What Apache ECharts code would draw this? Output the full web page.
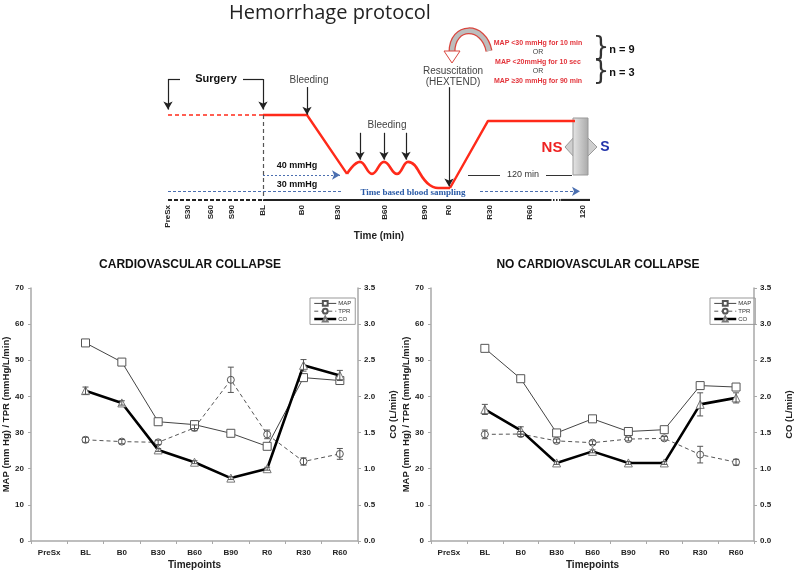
<!DOCTYPE html>
<html><head><meta charset="utf-8">
<script src="https://cdn.jsdelivr.net/npm/echarts@6/dist/echarts.min.js"></script>
<style>html,body{margin:0;padding:0;background:#fff}#c{width:795px;height:578px}</style>
</head><body><div id="c"></div>
<script>
// ---------- data ----------
const categories = ['PreSx','BL','B0','B30','B60','B90','R0','R30','R60'];
const mapTicks = [0,10,20,30,40,50,60,70];
const coTicks = [0,0.5,1,1.5,2,2.5,3,3.5];

const collapseMAP    = [null,54.8,49.5,33.0,32.2,29.8,26.2,45.2,44.4];
const collapseTPR    = [null,28.0,27.5,27.3,31.3,44.6,29.5,22.0,24.1];
const collapseTPRErr = [null,0.7,0.6,0.6,0.8,3.5,1.2,1.0,1.5];
const collapseCO     = [null,2.08,1.91,1.26,1.09,0.87,1.00,2.43,2.29];
const collapseCOErr  = [null,0.05,0.03,0.02,0.02,0.02,0.02,0.08,0.07];

const noCollapseMAP    = [null,53.3,44.9,29.9,33.8,30.3,30.8,43.0,42.6];
const noCollapseTPR    = [null,29.5,29.6,27.7,27.2,28.2,28.4,23.9,21.8];
const noCollapseTPRErr = [null,1.2,0.7,0.5,0.5,0.5,0.5,2.3,0.8];
const noCollapseCO     = [null,1.82,1.53,1.08,1.24,1.08,1.08,1.89,1.98];
const noCollapseCOErr  = [null,0.07,0.05,0.02,0.02,0.02,0.02,0.16,0.07];

// protocol schematic (x: schematic time position, y: schematic pressure)
const protocolTickLabels = ['PreSx','S30','S60','S90','BL','B0','B30','B60','B90','R0','R30','R60','120'];
const protocolTickPos    = [0,20,43,64,95,134,170,217,257,281,322,362,415];
const protocolSurgery = [[0,77.1],[95,77.1]];
const protocolBleed   = [[95,77.1],[139,77.1],[179,40.3]];
const protocolWaves   = [[179,40.3],[192,47.8],[204,40.3],[216,47.8],[229,40.3],[240,47.8],[262,33.2],[274,31.5],[282,31.5]];
const protocolResus   = [[282,31.5],[320,73.4],[407,73.4]];

// ---------- helpers ----------
const F = 'Liberation Sans, Arial, sans-serif';
const AX = '#a9a9a9';
function errSeries(xi, yi, vals, errs, z){
  return {type:'custom', xAxisIndex:xi, yAxisIndex:yi, z:z, silent:true,
    encode:{x:0, y:[1,2]},
    renderItem(params, api){
      const x=api.value(0), hi=api.value(1), lo=api.value(2);
      const p1=api.coord([x,hi]), p2=api.coord([x,lo]);
      const w=3, st={stroke:'#555',lineWidth:1};
      return {type:'group', children:[
        {type:'line', shape:{x1:p1[0],y1:p1[1],x2:p2[0],y2:p2[1]}, style:st},
        {type:'line', shape:{x1:p1[0]-w,y1:p1[1],x2:p1[0]+w,y2:p1[1]}, style:st},
        {type:'line', shape:{x1:p2[0]-w,y1:p2[1],x2:p2[0]+w,y2:p2[1]}, style:st}
      ]};
    },
    data: vals.map((v,i)=> v==null?null:[i, v+errs[i], v-errs[i]]).filter(Boolean)
  };
}
function chartSeries(xi, yl, yr, MAP, TPR, TPRe, CO, COe){
  return [
    {name:'MAP', type:'line', xAxisIndex:xi, yAxisIndex:yl, data:MAP, symbol:'rect', symbolSize:8, z:4,
      lineStyle:{color:'#444', width:1}, itemStyle:{color:'#fff', borderColor:'#555', borderWidth:1}},
    {name:'TPR', type:'line', xAxisIndex:xi, yAxisIndex:yl, data:TPR, symbol:'circle', symbolSize:7, z:3,
      lineStyle:{color:'#555', width:1, type:[4,3]}, itemStyle:{color:'#fff', borderColor:'#555', borderWidth:1}},
    {name:'CO', type:'line', xAxisIndex:xi, yAxisIndex:yr, data:CO, symbol:'triangle', symbolSize:8, z:5,
      lineStyle:{color:'#000', width:2.6}, itemStyle:{color:'#fff', borderColor:'#777', borderWidth:1}},
    errSeries(xi, yl, TPR, TPRe, 6),
    errSeries(xi, yr, CO, COe, 6)
  ];
}
function catAxis(gi){
  return {type:'category', gridIndex:gi, data:categories, boundaryGap:true,
    axisLine:{lineStyle:{color:AX, width:1.5}}, axisTick:{show:true, length:3, lineStyle:{color:AX}},
    axisLabel:{color:'#222', fontFamily:F, fontWeight:'bold', fontSize:8, margin:8},
    name:'Timepoints', nameLocation:'middle', nameGap:19,
    nameTextStyle:{color:'#222', fontFamily:F, fontWeight:'bold', fontSize:10}};
}
function leftAxis(gi){
  return {type:'value', gridIndex:gi, min:0, max:70, interval:10, position:'left',
    axisLine:{show:true, lineStyle:{color:AX, width:1.5}}, axisTick:{show:true, length:3, lineStyle:{color:AX}},
    splitLine:{show:false},
    axisLabel:{color:'#222', fontFamily:F, fontWeight:'bold', fontSize:8, margin:7},
    name:'MAP (mm Hg) / TPR (mmHg/L/min)', nameLocation:'middle', nameGap:17, nameRotate:90,
    nameTextStyle:{color:'#222', fontFamily:F, fontWeight:'bold', fontSize:9.5}};
}
function rightAxis(gi){
  return {type:'value', gridIndex:gi, min:0, max:3.5, interval:0.5, position:'right',
    axisLine:{show:true, lineStyle:{color:AX, width:1.5}}, axisTick:{show:true, length:3, lineStyle:{color:AX}},
    splitLine:{show:false},
    axisLabel:{color:'#222', fontFamily:F, fontWeight:'bold', fontSize:8, margin:6, formatter:v=>v.toFixed(1)},
    name:'CO (L/min)', nameLocation:'middle', nameGap:30, nameRotate:90,
    nameTextStyle:{color:'#222', fontFamily:F, fontWeight:'bold', fontSize:9.5}};
}
function legendAt(left){
  return {left:left, top:298, orient:'vertical', itemGap:1, itemWidth:22, itemHeight:6,
    padding:[2,4,2,3], borderColor:'#999', borderWidth:1, selectedMode:false,
    textStyle:{fontSize:6, fontFamily:F, color:'#333', padding:[0,0,0,-3]},
    data:[{name:'MAP', lineStyle:{width:1}}, {name:'TPR', lineStyle:{width:1}}, {name:'CO', lineStyle:{width:2.5}}]};
}
function txt(text, x, y, o){
  return Object.assign({type:'text', silent:true, style:Object.assign({text:text, x:x, y:y, textAlign:'center', textVerticalAlign:'middle',
    fill:'#333', font:'10px '+F}, o||{})});
}
const arrowPair = (x1,y1,x2,y2,ls)=>{ const a=[{coord:[x1,y1],symbol:'none'},{coord:[x2,y2],symbol:'arrow'}]; if(ls){a[0].lineStyle=ls;} return a; };
const plainPair = (x1,y1,x2,y2,ls)=>{ const a=[{coord:[x1,y1],symbol:'none'},{coord:[x2,y2],symbol:'none'}]; if(ls){a[0].lineStyle=ls;} return a; };
const blueDot = {color:'#4b6fb0', width:1.2, type:[2,2]};
const blueDash = {color:'#4b6fb0', width:1.2, type:[3,2]};
const thin = {color:'#333', width:1, type:'solid'};

const redTxt = {fill:'#e3343b', font:'bold 7px '+F};

const option = {
  animation:false,
  backgroundColor:'#fff',
  grid:[
    {left:168, top:72, width:422, height:128},
    {left:31, top:288, width:327, height:253},
    {left:431, top:288, width:327, height:253}
  ],
  xAxis:[
    {type:'value', gridIndex:0, min:0, max:422,
      axisLine:{show:false}, axisTick:{show:false}, splitLine:{show:false},
      axisLabel:{customValues:protocolTickPos, formatter:v=>protocolTickLabels[protocolTickPos.indexOf(v)],
        rotate:90, color:'#222', fontFamily:F, fontWeight:'bold', fontSize:8, margin:5},
      name:'Time (min)', nameLocation:'middle', nameGap:30,
      nameTextStyle:{color:'#222', fontFamily:F, fontWeight:'bold', fontSize:10}},
    catAxis(1), catAxis(2)
  ],
  yAxis:[
    {type:'value', gridIndex:0, min:24, max:104, show:false},
    leftAxis(1), rightAxis(1), leftAxis(2), rightAxis(2)
  ],
  legend:[legendAt(310), legendAt(710)],
  series:[
    {type:'line', xAxisIndex:0, yAxisIndex:0, data:protocolSurgery, symbol:'none', silent:true,
      lineStyle:{color:'#ff2a1a', width:1.5, type:[4,3]}},
    {type:'line', xAxisIndex:0, yAxisIndex:0, data:protocolBleed, symbol:'none', silent:true,
      lineStyle:{color:'#ff2a1a', width:2.4}},
    {type:'line', xAxisIndex:0, yAxisIndex:0, data:protocolWaves, symbol:'none', smooth:0.45, silent:true,
      lineStyle:{color:'#ff2a1a', width:2.6}},
    {type:'line', xAxisIndex:0, yAxisIndex:0, data:protocolResus, symbol:'none', silent:true,
      lineStyle:{color:'#ff2a1a', width:2.4}},
    // time baseline
    {type:'line', xAxisIndex:0, yAxisIndex:0, data:[[0,24],[95,24]], symbol:'none', silent:true,
      lineStyle:{color:'#222', width:2.2, type:[4,2]}},
    {type:'line', xAxisIndex:0, yAxisIndex:0, data:[[382,24],[393,24]], symbol:'none', silent:true,
      lineStyle:{color:'#222', width:2.2, type:[1.5,1.5]}},
    {type:'line', xAxisIndex:0, yAxisIndex:0, data:[[393,24],[422,24]], symbol:'none', silent:true,
      lineStyle:{color:'#222', width:2.2}},
    {type:'line', xAxisIndex:0, yAxisIndex:0, data:[[95,24],[382,24]], symbol:'none', silent:true,
      lineStyle:{color:'#222', width:2.2},
      markLine:{silent:true, animation:false, symbolSize:[7,8], label:{show:false},
        lineStyle:{color:'#222', width:1.2, type:'solid'},
        data:[
          plainPair(0,99.6,12,99.6), arrowPair(0,99.6,0,80.5),
          plainPair(75,99.6,95,99.6), arrowPair(95,99.6,95,80.5),
          plainPair(95,77.1,95,24,{color:'#555', width:1.2, type:[4,3]}),
          arrowPair(139,94.6,139,77.3),
          arrowPair(192,66,192,49.2), arrowPair(216,66,216,49.2), arrowPair(238,66,238,49.2),
          arrowPair(281,94.5,281,32.5),
          arrowPair(95,39.6,172,39.6,blueDot),
          plainPair(0,29.4,175,29.4,blueDash),
          arrowPair(312,29.4,412,29.4,blueDash),
          plainPair(300,39.6,332,39.6,thin), plainPair(378,39.6,404,39.6,thin)
        ]}},
    ...chartSeries(1,1,2,collapseMAP,collapseTPR,collapseTPRErr,collapseCO,collapseCOErr),
    ...chartSeries(2,3,4,noCollapseMAP,noCollapseTPR,noCollapseTPRErr,noCollapseCO,noCollapseCOErr)
  ],
  graphic:[
    txt('Hemorrhage protocol', 330, 13, {font:'20px "Open Sans", '+F, fill:'#222'}),
    txt('CARDIOVASCULAR COLLAPSE', 190, 265, {font:'bold 12px '+F, fill:'#111'}),
    txt('NO CARDIOVASCULAR COLLAPSE', 598, 265, {font:'bold 12px '+F, fill:'#111'}),
    txt('Surgery', 216, 79, {font:'bold 11px '+F, fill:'#111'}),
    txt('Bleeding', 309, 80, {font:'10px '+F, fill:'#444'}),
    txt('Bleeding', 387, 125, {font:'10px '+F, fill:'#444'}),
    txt('Resuscitation', 453, 71, {font:'10px '+F, fill:'#444'}),
    txt('(HEXTEND)', 453, 82, {font:'10px '+F, fill:'#444'}),
    txt('40 mmHg', 297, 166, {font:'bold 9px '+F, fill:'#111'}),
    txt('30 mmHg', 297, 185, {font:'bold 9px '+F, fill:'#111'}),
    txt('Time based blood sampling', 413, 193, {font:'bold 9px "Liberation Serif", serif', fill:'#2a5aa6'}),
    txt('120 min', 523, 175, {font:'9px '+F, fill:'#333'}),
    txt('MAP <30 mmHg for 10 min', 538, 43, redTxt),
    txt('OR', 538, 52.5, {fill:'#444', font:'7px '+F}),
    txt('MAP <20mmHg for 10 sec', 538, 62, redTxt),
    txt('OR', 538, 71.5, {fill:'#444', font:'7px '+F}),
    txt('MAP \u226530 mmHg for 90 min', 538, 81, redTxt),
    txt('}', 601, 48, {font:'26px "DejaVu Sans", sans-serif', fill:'#333'}),
    txt('}', 601, 72, {font:'26px "DejaVu Sans", sans-serif', fill:'#333'}),
    txt('n = 9', 622, 50, {font:'bold 11px '+F, fill:'#111'}),
    txt('n = 3', 622, 73, {font:'bold 11px '+F, fill:'#111'}),
    // curved arrow
    {type:'bezierCurve', silent:true, shape:{x1:489, y1:51, cpx1:484, cpy1:24, cpx2:452, cpy2:24, x2:452, y2:52},
      style:{stroke:'#d9463e', lineWidth:7, fill:null}},
    {type:'bezierCurve', silent:true, shape:{x1:489, y1:51, cpx1:484, cpy1:24, cpx2:452, cpy2:24, x2:452, y2:52},
      style:{stroke:'#bdbdbd', lineWidth:4.5, fill:null}},
    {type:'polygon', silent:true, shape:{points:[[444,51],[460,51],[452,63]]}, style:{fill:'#fff', stroke:'#d9463e', lineWidth:1}},
    // NS / S box
    {type:'polygon', silent:true, shape:{points:[[575,136],[565,147],[575,158]]}, style:{fill:'#cfcfcf', stroke:'#999', lineWidth:1}},
    {type:'polygon', silent:true, shape:{points:[[586,136],[597,147],[586,158]]}, style:{fill:'#cfcfcf', stroke:'#999', lineWidth:1}},
    {type:'rect', silent:true, shape:{x:573, y:118, width:15, height:57},
      style:{fill:new echarts.graphic.LinearGradient(0,0,1,0,[{offset:0,color:'#e6e6e6'},{offset:1,color:'#a9a9a9'}]), stroke:'#999', lineWidth:1}},
    txt('NS', 552, 148, {font:'bold 15px '+F, fill:'#ee2222'}),
    txt('S', 605, 147, {font:'bold 14px '+F, fill:'#2233aa'})
  ]
};
const chart = echarts.init(document.getElementById('c'), null, {renderer:'canvas'});
chart.setOption(option);
</script></body></html>
